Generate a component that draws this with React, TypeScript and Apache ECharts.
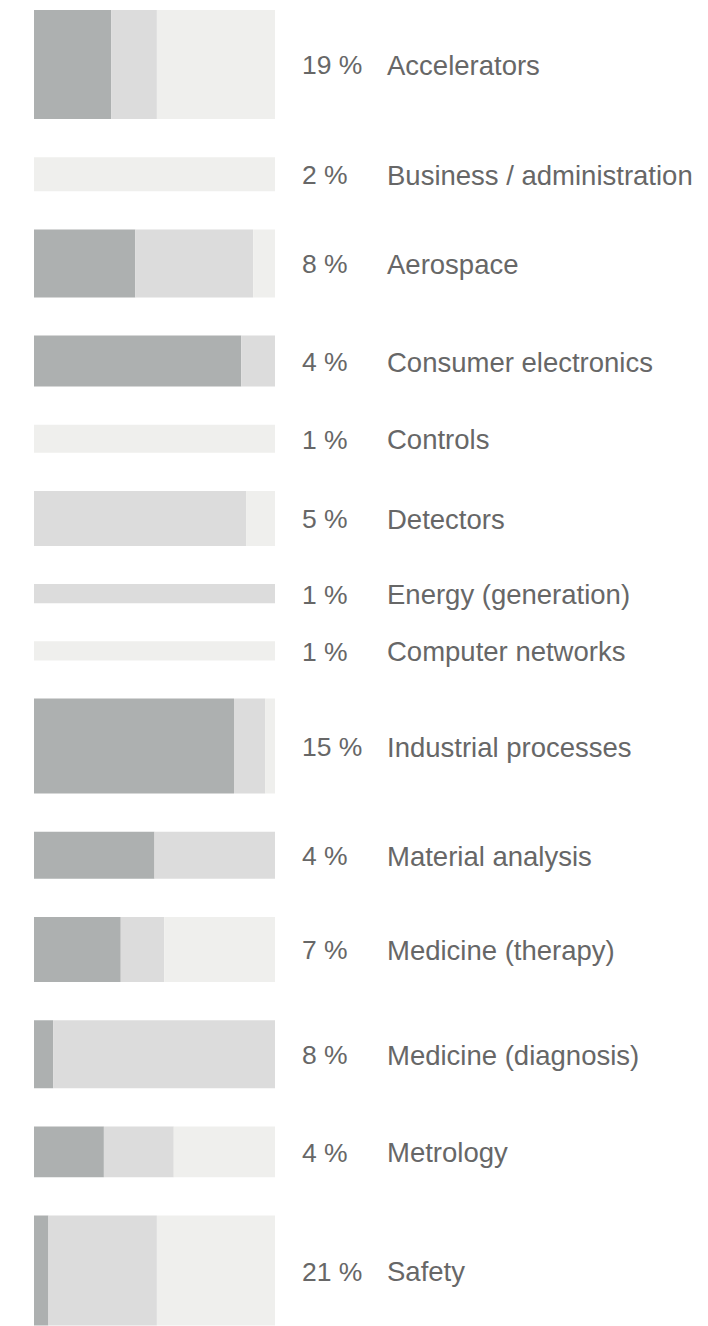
import React, { useEffect, useRef } from "react";
import * as echarts from "echarts";

// Categories, top to bottom
const categories = [
  "Accelerators",
  "Business / administration",
  "Aerospace",
  "Consumer electronics",
  "Controls",
  "Detectors",
  "Energy (generation)",
  "Computer networks",
  "Industrial processes",
  "Material analysis",
  "Medicine (therapy)",
  "Medicine (diagnosis)",
  "Metrology",
  "Safety",
];

// Printed percentage labels
const percentLabels = [19, 2, 8, 4, 1, 5, 1, 1, 15, 4, 7, 8, 4, 21];

// Estimated underlying share (drives bar thickness, area-like: thickness ~ sqrt(share))
const shareEstimate = [19, 1.85, 7.4, 4.16, 1.25, 4.84, 0.58, 0.58, 14.44, 3.53, 6.76, 7.4, 4.16, 19.36];

// Breakdown of each bar into three parts (percent of bar length)
const darkPart = [32, 0, 42, 86, 0, 0, 0, 0, 83, 50, 36, 8, 29, 6];
const midPart = [19, 0, 49, 14, 0, 88, 100, 0, 13, 50, 18, 92, 29, 45];
const lightPart = [49, 100, 9, 0, 100, 12, 0, 100, 4, 0, 46, 0, 42, 49];

const COLOR_DARK = "#adb0b0";
const COLOR_MID = "#dcdcdc";
const COLOR_LIGHT = "#efefed";
const TEXT_COLOR = "#676767";
const PX_PER_SQRT = 25;
const GAP = 38.2;

export default function App() {
  const ref = useRef<HTMLDivElement>(null);

  useEffect(() => {
    document.body.style.margin = "0";
    if (!ref.current) return;
    const chart = echarts.init(ref.current, null, { renderer: "svg" });

    const thickness = shareEstimate.map((s) => PX_PER_SQRT * Math.sqrt(s));
    const starts: number[] = [];
    let acc = 0;
    thickness.forEach((t) => {
      starts.push(acc);
      acc += t + GAP;
    });
    const total = acc - GAP;

    const data = categories.map((_, i) => [
      i,
      starts[i],
      starts[i] + thickness[i],
      darkPart[i],
      midPart[i],
      lightPart[i],
    ]);

    const fontFamily = '"Liberation Sans", Arial, Helvetica, sans-serif';

    chart.setOption({
      animation: false,
      grid: { left: 34, top: 10, width: 241, height: total },
      xAxis: { type: "value", min: 0, max: 100, show: false },
      yAxis: { type: "value", min: 0, max: total, inverse: true, show: false },
      series: [
        {
          type: "custom",
          clip: false,
          silent: true,
          data,
          encode: { x: [3, 4, 5], y: [1, 2] },
          renderItem: (params: any, api: any) => {
            const i = api.value(0) as number;
            const y0 = api.value(1) as number;
            const y1 = api.value(2) as number;
            const d = api.value(3) as number;
            const m = api.value(4) as number;
            const l = api.value(5) as number;
            const segs: [number, number, string][] = [
              [0, d, COLOR_DARK],
              [d, d + m, COLOR_MID],
              [d + m, d + m + l, COLOR_LIGHT],
            ];
            const children: any[] = [];
            segs.forEach(([a, b, color]) => {
              if (b > a) {
                const p0 = api.coord([a, y0]);
                const p1 = api.coord([b, y1]);
                children.push({
                  type: "rect",
                  shape: { x: p0[0], y: p0[1], width: p1[0] - p0[0], height: p1[1] - p0[1] },
                  style: { fill: color },
                });
              }
            });
            const right = api.coord([100, (y0 + y1) / 2]);
            children.push({
              type: "text",
              x: right[0] + 27,
              y: right[1] + 1,
              style: {
                text: percentLabels[i] + " %",
                fill: TEXT_COLOR,
                fontSize: 26.5,
                fontFamily,
                align: "left",
                verticalAlign: "middle",
              },
            });
            children.push({
              type: "text",
              x: right[0] + 112,
              y: right[1] + 1,
              style: {
                text: categories[i],
                fill: TEXT_COLOR,
                fontSize: 27.5,
                fontFamily,
                align: "left",
                verticalAlign: "middle",
              },
            });
            return { type: "group", children };
          },
        },
      ],
    });

    return () => chart.dispose();
  }, []);

  return <div ref={ref} style={{ width: 708, height: 1326 }} />;
}
